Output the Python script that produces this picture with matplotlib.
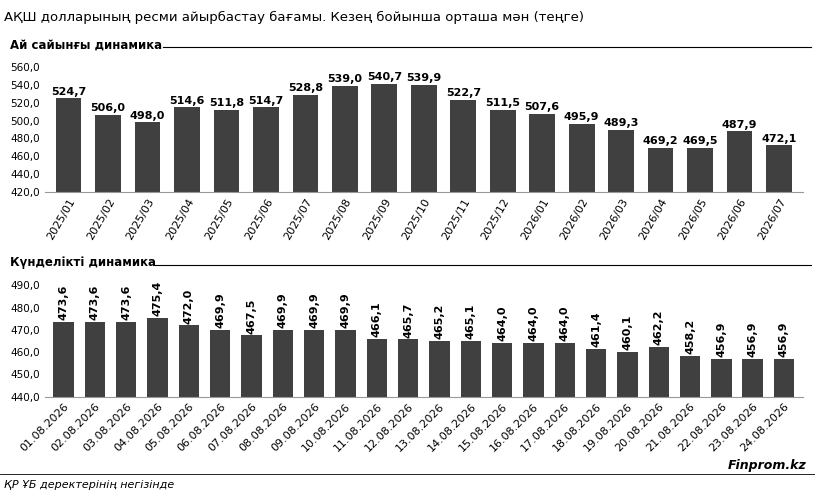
import matplotlib.pyplot as plt
from matplotlib.ticker import FuncFormatter

# Monthly and daily average USD rate (tenge)
months = ['2025/01', '2025/02', '2025/03', '2025/04', '2025/05', '2025/06', '2025/07',
          '2025/08', '2025/09', '2025/10', '2025/11', '2025/12', '2026/01', '2026/02',
          '2026/03', '2026/04', '2026/05', '2026/06', '2026/07']
monthly = [524.7, 506.0, 498.0, 514.6, 511.8, 514.7, 528.8, 539.0, 540.7, 539.9,
           522.7, 511.5, 507.6, 495.9, 489.3, 469.2, 469.5, 487.9, 472.1]
days = ['%02d.08.2026' % d for d in range(1, 25)]
daily = [473.6, 473.6, 473.6, 475.4, 472.0, 469.9, 467.5, 469.9, 469.9, 469.9, 466.1, 465.7,
         465.2, 465.1, 464.0, 464.0, 464.0, 461.4, 460.1, 462.2, 458.2, 456.9, 456.9, 456.9]

comma = FuncFormatter(lambda v, p: ('%.1f' % v).replace('.', ','))
bar_color = '#404040'

# Create a figure and axes
fig = plt.figure(figsize=(8.15, 4.96), dpi=100)
ax1 = fig.add_axes([0.055, 0.613, 0.93, 0.252])
ax2 = fig.add_axes([0.055, 0.2, 0.93, 0.225])

# Monthly bars
ax1.bar(months, monthly, width=0.65, color=bar_color)
ax1.set_ylim(420, 560)
ax1.set_yticks(range(420, 561, 20))
for i, v in enumerate(monthly):
    ax1.text(i, v + 2, ('%.1f' % v).replace('.', ','), ha='center', va='bottom',
             fontsize=8, fontweight='bold')

# Daily bars
ax2.bar(days, daily, width=0.65, color=bar_color)
ax2.set_ylim(440, 490)
ax2.set_yticks(range(440, 491, 10))
for i, v in enumerate(daily):
    ax2.text(i, v + 0.8, ('%.1f' % v).replace('.', ','), ha='center', va='bottom',
             fontsize=8, fontweight='bold', rotation=90)

for ax, rot in ((ax1, 60), (ax2, 45)):
    ax.yaxis.set_major_formatter(comma)
    ax.tick_params(axis='y', labelsize=7.5, length=0)
    ax.tick_params(axis='x', labelsize=8, rotation=rot, length=0)
    for lbl in ax.get_xticklabels():
        lbl.set_ha('right')
        lbl.set_rotation_mode('anchor')
    for s in ['top', 'right', 'left']:
        ax.spines[s].set_visible(False)
    ax.spines['bottom'].set_color('#999999')
    ax.set_xlim(-0.6, len(ax.patches) - 0.4)

# Titles and section headers
fig.text(0.005, 0.965, 'АҚШ долларының ресми айырбастау бағамы. Кезең бойынша орташа мән (теңге)',
         fontsize=9.5, va='center')
fig.text(0.012, 0.91, 'Ай сайынғы динамика', fontsize=8.5, fontweight='bold', va='center')
fig.add_artist(plt.Line2D([0.2, 0.995], [0.905, 0.905], color='black', lw=0.8))
fig.text(0.012, 0.47, 'Күнделікті динамика', fontsize=8.5, fontweight='bold', va='center')
fig.add_artist(plt.Line2D([0.19, 0.995], [0.466, 0.466], color='black', lw=0.8))

# Footer
fig.add_artist(plt.Line2D([0.0, 1.0], [0.045, 0.045], color='black', lw=0.6))
fig.text(0.005, 0.022, 'ҚР ҰБ деректерінің негізінде', fontsize=8, style='italic', va='center')
fig.text(0.99, 0.062, 'Finprom.kz', fontsize=9, style='italic', fontweight='bold',
         ha='right', va='center')

fig.savefig('out.png')
